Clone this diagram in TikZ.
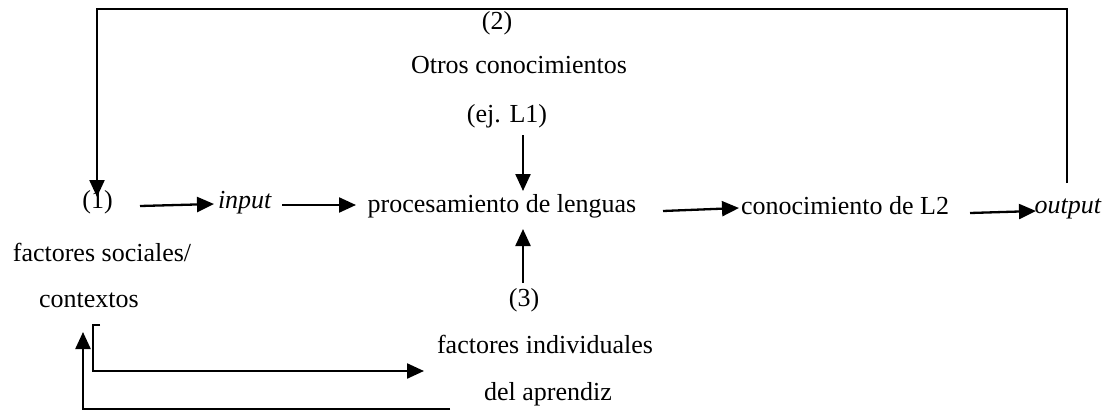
\documentclass[tikz,border=0pt]{standalone}
\usepackage{fontspec}
\setmainfont{Liberation Serif}
\usetikzlibrary{arrows.meta}
\tikzset{
  lbl/.style={anchor=base, inner sep=0pt, font=\fontsize{26}{31}\selectfont},
  conn/.style={line width=2.3pt, -{Triangle[length=17pt,width=15pt]}},
  plain/.style={line width=2.3pt}
}
\begin{document}
\begin{tikzpicture}[x=1pt,y=-1pt]
\useasboundingbox (0,0) rectangle (1107,412);
% texts
\node[lbl] (n2) at (497,30) {(2)};
\node[lbl] (otros) at (519,73) {Otros conocimientos};
\node[lbl] (ej) at (507,122) {(ej. L1)};
\node[lbl] (n1) at (97.5,208) {(1)};
\node[lbl] (input) at (245,208) {\textit{input}};
\node[lbl] (proc) at (502,212) {procesamiento de lenguas};
\node[lbl] (conoc) at (845,214) {conocimiento de L2};
\node[lbl] (output) at (1068,213) {\textit{output}};
\node[lbl] (fs) at (102,261) {factores sociales/};
\node[lbl] (ctx) at (89,307) {contextos};
\node[lbl] (n3) at (524,306) {(3)};
\node[lbl] (fi) at (545,353) {factores individuales};
\node[lbl] (del) at (548,400) {del aprendiz};
% coordinates
\coordinate (tr0) at (1067,183);
\coordinate (tr1) at (1067,9);
\coordinate (tl) at (97,9);
\coordinate (t1) at (97,197);
\coordinate (a1s) at (140,206);
\coordinate (a1e) at (214,204);
\coordinate (a2s) at (282,205);
\coordinate (a2e) at (356,205);
\coordinate (a3s) at (663,211);
\coordinate (a3e) at (739,208);
\coordinate (a4s) at (970,213);
\coordinate (a4e) at (1036,211);
\coordinate (ds) at (523,135);
\coordinate (de) at (523,191);
\coordinate (us) at (523,283);
\coordinate (ue) at (523,229);
\coordinate (b0) at (100,325);
\coordinate (b1) at (93,325);
\coordinate (b2) at (93,371);
\coordinate (b3) at (424,371);
\coordinate (c0) at (450,409);
\coordinate (c1) at (83,409);
\coordinate (c2) at (83,332);
% connectors
\draw[conn] (tr0) -- (tr1) -- (tl) -- (t1);
\draw[conn] (a1s) -- (a1e);
\draw[conn] (a2s) -- (a2e);
\draw[conn] (a3s) -- (a3e);
\draw[conn] (a4s) -- (a4e);
\draw[conn] (ds) -- (de);
\draw[conn] (us) -- (ue);
\draw[conn] (b0) -- (b1) -- (b2) -- (b3);
\draw[conn] (c0) -- (c1) -- (c2);
\end{tikzpicture}
\end{document}
